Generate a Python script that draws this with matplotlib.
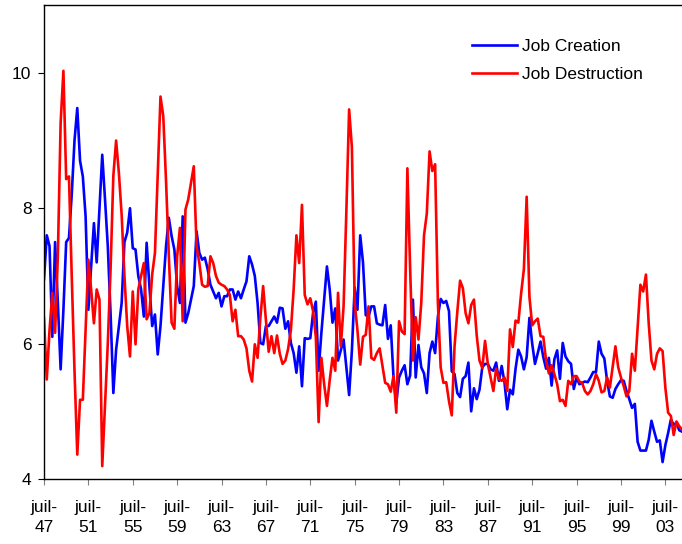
import matplotlib
matplotlib.use("Agg")
import matplotlib.pyplot as plt
import numpy as np

plt.rcParams['font.family'] = ['Liberation Sans', 'DejaVu Sans']

# quarterly rates, 1947Q3 .. 2005Q1
job_creation = [
    6.95, 7.6, 7.44, 6.1, 7.5, 6.6, 5.62, 6.5, 7.5, 7.56,
    8.2, 9.0, 9.48, 8.7, 8.47, 7.88, 6.5, 7.15, 7.78, 7.2,
    7.98, 8.79, 8.13, 7.44, 6.45, 5.27, 5.91, 6.25, 6.6, 7.5,
    7.64, 8.0, 7.41, 7.39, 7.0, 6.8, 6.4, 7.49, 6.85, 6.26,
    6.43, 5.84, 6.26, 6.85, 7.44, 7.86, 7.59, 7.39, 6.85, 6.6,
    7.88, 6.31, 6.45, 6.65, 6.85, 7.66, 7.34, 7.24, 7.27, 7.1,
    6.87, 6.77, 6.67, 6.75, 6.55, 6.7, 6.7, 6.8, 6.8, 6.65,
    6.77, 6.67, 6.8, 6.92, 7.29, 7.17, 7.0, 6.6, 6.01, 5.99,
    6.26, 6.26, 6.33, 6.4, 6.31, 6.53, 6.52, 6.22, 6.33, 6.01,
    5.86, 5.57, 5.96, 5.37, 6.08, 6.07, 6.08, 6.45, 6.62, 5.6,
    6.16, 6.65, 7.14, 6.8, 6.31, 6.52, 5.75, 5.9, 6.06, 5.65,
    5.24, 5.9, 6.83, 6.5, 7.6, 7.2, 6.42, 6.4, 6.55, 6.55,
    6.3, 6.28, 6.27, 6.57, 6.07, 6.27, 5.5, 5.12, 5.5, 5.6,
    5.68, 5.4, 5.53, 6.65, 5.5, 5.98, 5.65, 5.56, 5.27, 5.86,
    6.03, 5.86, 6.4, 6.66, 6.6, 6.63, 6.48, 5.59, 5.55, 5.27,
    5.21, 5.48, 5.52, 5.72, 5.0, 5.34, 5.18, 5.32, 5.65, 5.7,
    5.7, 5.62, 5.6, 5.72, 5.45, 5.67, 5.43, 5.03, 5.32, 5.25,
    5.63, 5.91, 5.81, 5.62, 5.8, 6.38, 6.0, 5.7, 5.86, 6.03,
    5.8, 5.63, 5.79, 5.38, 5.77, 5.9, 5.48, 6.01, 5.81, 5.74,
    5.7, 5.33, 5.5, 5.4, 5.42, 5.44, 5.43, 5.5, 5.58, 5.58,
    6.03, 5.85, 5.78, 5.45, 5.22, 5.2, 5.33, 5.4, 5.46, 5.45,
    5.3, 5.18, 5.05, 5.11, 4.55, 4.42, 4.42, 4.42, 4.58, 4.86,
    4.7, 4.55, 4.57, 4.25, 4.5, 4.68, 4.88, 4.8, 4.83, 4.72,
    4.7,
]

job_destruction = [
    6.38, 5.47, 6.2, 6.75, 6.16, 7.3, 9.26, 10.03, 8.43, 8.47,
    7.0, 5.6, 4.36, 5.17, 5.17, 6.2, 7.24, 6.8, 6.3, 6.8,
    6.65, 4.19, 5.1, 6.0, 7.1, 8.48, 9.0, 8.52, 7.9, 7.0,
    6.26, 5.81, 6.77, 5.99, 6.8, 7.0, 7.19, 6.36, 6.45, 7.02,
    7.34, 8.5, 9.65, 9.36, 8.4, 7.3, 6.31, 6.22, 7.29, 7.71,
    6.33, 7.98, 8.13, 8.38, 8.62, 7.44, 7.19, 6.87, 6.84, 6.85,
    7.29, 7.19, 7.0, 6.9, 6.87, 6.85, 6.8, 6.72, 6.33, 6.5,
    6.11, 6.11, 6.06, 5.93, 5.6, 5.44, 5.99, 5.79, 6.38, 6.85,
    6.35, 5.88, 6.11, 5.86, 6.12, 5.85, 5.7, 5.75, 5.92, 6.2,
    6.8, 7.6, 7.19, 8.05, 6.72, 6.58, 6.67, 6.48, 6.1, 4.84,
    5.79, 5.4, 5.08, 5.46, 5.79, 5.6, 6.75, 5.96, 6.55, 7.95,
    9.46, 8.9, 6.6, 6.2, 5.69, 6.1, 6.13, 6.55, 5.79, 5.76,
    5.86, 5.93, 5.68, 5.42, 5.4, 5.29, 5.52, 4.98, 6.33, 6.18,
    6.14, 8.59, 7.1, 5.75, 6.39, 6.06, 6.6, 7.6, 7.92, 8.84,
    8.55, 8.65, 6.6, 5.65, 5.42, 5.43, 5.15, 4.94, 5.96, 6.47,
    6.93, 6.82, 6.45, 6.3, 6.57, 6.65, 6.12, 5.75, 5.64, 6.04,
    5.7, 5.5, 5.3, 5.63, 5.48, 5.45, 5.5, 5.3, 6.21, 5.95,
    6.34, 6.31, 6.74, 7.1, 8.17, 6.69, 6.27, 6.33, 6.37, 6.11,
    6.1, 5.75, 5.56, 5.68, 5.55, 5.4, 5.15, 5.17, 5.08, 5.45,
    5.4, 5.52, 5.52, 5.44, 5.42, 5.3, 5.25, 5.3, 5.4, 5.55,
    5.45, 5.28, 5.3, 5.5, 5.35, 5.65, 5.96, 5.65, 5.5, 5.37,
    5.22, 5.3, 5.85, 5.6, 6.23, 6.87, 6.77, 7.02, 6.3, 5.75,
    5.62, 5.85, 5.93, 5.89, 5.35, 4.98, 4.93, 4.65, 4.85, 4.78,
    4.73,
]

tick_labels = ['juil-\n47', 'juil-\n51', 'juil-\n55', 'juil-\n59', 'juil-\n63',
               'juil-\n67', 'juil-\n71', 'juil-\n75', 'juil-\n79', 'juil-\n83',
               'juil-\n87', 'juil-\n91', 'juil-\n95', 'juil-\n99', 'juil-\n03']

quarters = np.arange(len(job_creation))

fig = plt.figure(figsize=(6.82, 5.44), dpi=100)
ax = fig.add_axes([0.0645, 0.1195, 0.9355, 0.871])

ax.plot(quarters, job_creation, color='#0000ff', lw=1.9, label='Job Creation')
ax.plot(quarters, job_destruction, color='#ff0000', lw=1.9, label='Job Destruction')

ax.set_xlim(0, len(job_creation) - 1)
ax.set_ylim(4, 11)
ax.set_yticks([4, 6, 8, 10])
ax.set_xticks(np.arange(0, len(job_creation), 16))
ax.set_xticklabels(tick_labels, linespacing=1.45)

ax.tick_params(axis='both', labelsize=12.5, colors='black', direction='out', length=4)
ax.tick_params(axis='x', color='#808080', pad=11)
ax.tick_params(axis='y', pad=5)
ax.spines['right'].set_visible(False)
for s in ['left', 'bottom', 'top']:
    ax.spines[s].set_linewidth(1.0)

ax.legend(loc='upper left', bbox_to_anchor=(0.669, 0.957), bbox_transform=fig.transFigure,
          frameon=False, fontsize=12.5, handlelength=2.6, handletextpad=0.3,
          labelspacing=0.75)

plt.savefig('out.png', dpi=100)
